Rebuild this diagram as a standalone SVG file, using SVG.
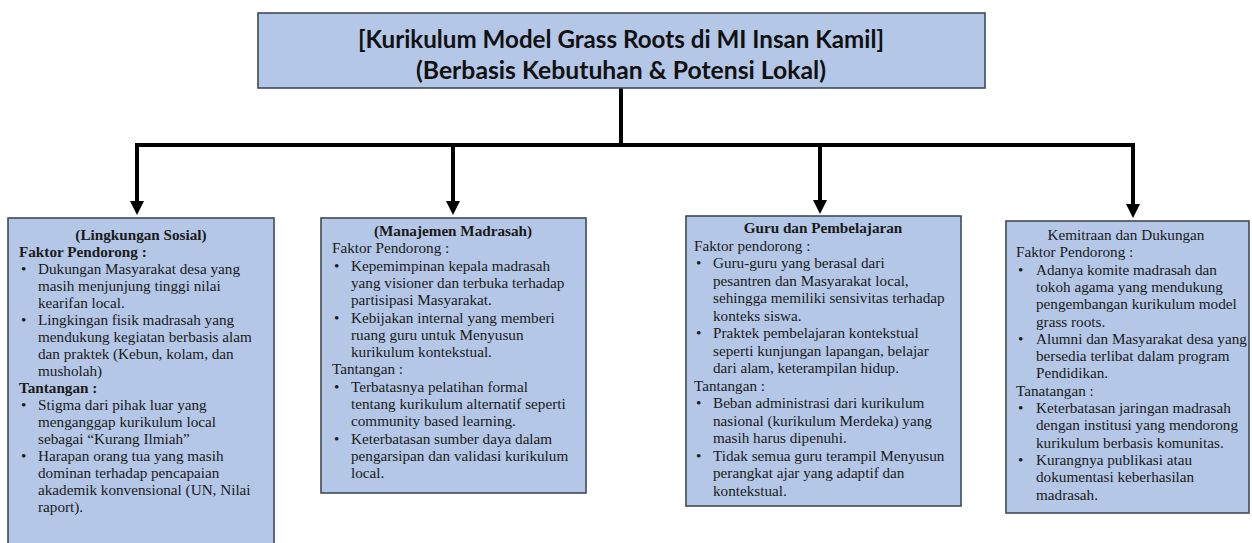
<svg xmlns="http://www.w3.org/2000/svg" width="1252" height="543" viewBox="0 0 1252 543">
<style>
.box{fill:#b4c7e7;stroke:#3f4a59;stroke-width:1.6}
.ttl{font-family:Lato,"Open Sans",sans-serif;font-size:24px;font-weight:bold;fill:#111;text-anchor:middle}
.t{font-family:"Liberation Serif","Times New Roman",serif;font-size:15.2px;fill:#1a1a1a}
.b{font-weight:bold}
.c{text-anchor:middle}
.con{fill:none;stroke:#000;stroke-width:4}
</style>
<rect width="1252" height="543" fill="#fff"/>

<g id="connectors">
<path class="con" d="M621,88 V145"/>
<path class="con" d="M137,145 H1133"/>
<path d="M137,143 V202" class="con"/>
<path d="M453,145 V202" class="con"/>
<path d="M820,145 V202" class="con"/>
<path d="M1133,143 V205" class="con"/>
<path d="M130,201 H144 L137,215 Z" fill="#000"/>
<path d="M446,201 H460 L453,215 Z" fill="#000"/>
<path d="M813,200 H827 L820,214 Z" fill="#000"/>
<path d="M1126,204 H1140 L1133,218 Z" fill="#000"/>
</g>

<g id="title">
<rect class="box" x="258" y="13" width="727" height="75"/>
<text class="ttl" x="621" y="48" textLength="526" lengthAdjust="spacingAndGlyphs">[Kurikulum Model Grass Roots di MI Insan Kamil]</text>
<text class="ttl" x="621" y="79" textLength="410" lengthAdjust="spacingAndGlyphs">(Berbasis Kebutuhan &amp; Potensi Lokal)</text>
</g>

<g id="lingkungan-sosial">
<rect class="box" x="8" y="218" width="266" height="330"/>
<text class="t b c" x="141" y="240">(Lingkungan Sosial)</text>
<text class="t b" x="19" y="257">Faktor Pendorong :</text>
<text class="t" x="21" y="274">•</text><text class="t" x="38" y="274">Dukungan Masyarakat desa yang</text>
<text class="t" x="38" y="291">masih menjunjung tinggi nilai</text>
<text class="t" x="38" y="308">kearifan local.</text>
<text class="t" x="21" y="325">•</text><text class="t" x="38" y="325">Lingkingan fisik madrasah yang</text>
<text class="t" x="38" y="342">mendukung kegiatan berbasis alam</text>
<text class="t" x="38" y="359">dan praktek (Kebun, kolam, dan</text>
<text class="t" x="38" y="376">musholah)</text>
<text class="t b" x="19" y="393">Tantangan :</text>
<text class="t" x="21" y="410">•</text><text class="t" x="38" y="410">Stigma dari pihak luar yang</text>
<text class="t" x="38" y="427">menganggap kurikulum local</text>
<text class="t" x="38" y="444">sebagai “Kurang Ilmiah”</text>
<text class="t" x="21" y="461">•</text><text class="t" x="38" y="461">Harapan orang tua yang masih</text>
<text class="t" x="38" y="478">dominan terhadap pencapaian</text>
<text class="t" x="38" y="495">akademik konvensional (UN, Nilai</text>
<text class="t" x="38" y="512">raport).</text>
</g>

<g id="manajemen-madrasah">
<rect class="box" x="321" y="218" width="265" height="275"/>
<text class="t b c" x="453" y="236">(Manajemen Madrasah)</text>
<text class="t" x="332" y="253.3">Faktor Pendorong :</text>
<text class="t" x="334" y="270.6">•</text><text class="t" x="351" y="270.6">Kepemimpinan kepala madrasah</text>
<text class="t" x="351" y="287.9">yang visioner dan terbuka terhadap</text>
<text class="t" x="351" y="305.2">partisipasi Masyarakat.</text>
<text class="t" x="334" y="322.5">•</text><text class="t" x="351" y="322.5">Kebijakan internal yang memberi</text>
<text class="t" x="351" y="339.8">ruang guru untuk Menyusun</text>
<text class="t" x="351" y="357.1">kurikulum kontekstual.</text>
<text class="t" x="332" y="374.4">Tantangan :</text>
<text class="t" x="334" y="391.7">•</text><text class="t" x="351" y="391.7">Terbatasnya pelatihan formal</text>
<text class="t" x="351" y="409">tentang kurikulum alternatif seperti</text>
<text class="t" x="351" y="426.3">community based learning.</text>
<text class="t" x="334" y="443.6">•</text><text class="t" x="351" y="443.6">Keterbatasan sumber daya dalam</text>
<text class="t" x="351" y="460.9">pengarsipan dan validasi kurikulum</text>
<text class="t" x="351" y="478.2">local.</text>
</g>

<g id="guru-pembelajaran">
<rect class="box" x="686" y="216" width="275" height="290"/>
<text class="t b c" x="823" y="233">Guru dan Pembelajaran</text>
<text class="t" x="694" y="250.5">Faktor pendorong :</text>
<text class="t" x="696" y="268">•</text><text class="t" x="713" y="268">Guru-guru yang berasal dari</text>
<text class="t" x="713" y="285.5">pesantren dan Masyarakat local,</text>
<text class="t" x="713" y="303">sehingga memiliki sensivitas terhadap</text>
<text class="t" x="713" y="320.5">konteks siswa.</text>
<text class="t" x="696" y="338">•</text><text class="t" x="713" y="338">Praktek pembelajaran kontekstual</text>
<text class="t" x="713" y="355.5">seperti kunjungan lapangan, belajar</text>
<text class="t" x="713" y="373">dari alam, keterampilan hidup.</text>
<text class="t" x="694" y="390.5">Tantangan :</text>
<text class="t" x="696" y="408">•</text><text class="t" x="713" y="408">Beban administrasi dari kurikulum</text>
<text class="t" x="713" y="425.5">nasional (kurikulum Merdeka) yang</text>
<text class="t" x="713" y="443">masih harus dipenuhi.</text>
<text class="t" x="696" y="460.5">•</text><text class="t" x="713" y="460.5">Tidak semua guru terampil Menyusun</text>
<text class="t" x="713" y="478">perangkat ajar yang adaptif dan</text>
<text class="t" x="713" y="495.5">kontekstual.</text>
</g>

<g id="kemitraan-dukungan">
<rect class="box" x="1006" y="221" width="243" height="292"/>
<text class="t c" x="1126" y="240">Kemitraan dan Dukungan</text>
<text class="t" x="1016" y="257.3">Faktor Pendorong :</text>
<text class="t" x="1018" y="274.6">•</text><text class="t" x="1036" y="274.6">Adanya komite madrasah dan</text>
<text class="t" x="1036" y="291.9">tokoh agama yang mendukung</text>
<text class="t" x="1036" y="309.2">pengembangan kurikulum model</text>
<text class="t" x="1036" y="326.5">grass roots.</text>
<text class="t" x="1018" y="343.8">•</text><text class="t" x="1036" y="343.8">Alumni dan Masyarakat desa yang</text>
<text class="t" x="1036" y="361.1">bersedia terlibat dalam program</text>
<text class="t" x="1036" y="378.4">Pendidikan.</text>
<text class="t" x="1016" y="395.7">Tanatangan :</text>
<text class="t" x="1018" y="413">•</text><text class="t" x="1036" y="413">Keterbatasan jaringan madrasah</text>
<text class="t" x="1036" y="430.3">dengan institusi yang mendorong</text>
<text class="t" x="1036" y="447.6">kurikulum berbasis komunitas.</text>
<text class="t" x="1018" y="464.9">•</text><text class="t" x="1036" y="464.9">Kurangnya publikasi atau</text>
<text class="t" x="1036" y="482.2">dokumentasi keberhasilan</text>
<text class="t" x="1036" y="499.5">madrasah.</text>
</g>
</svg>
